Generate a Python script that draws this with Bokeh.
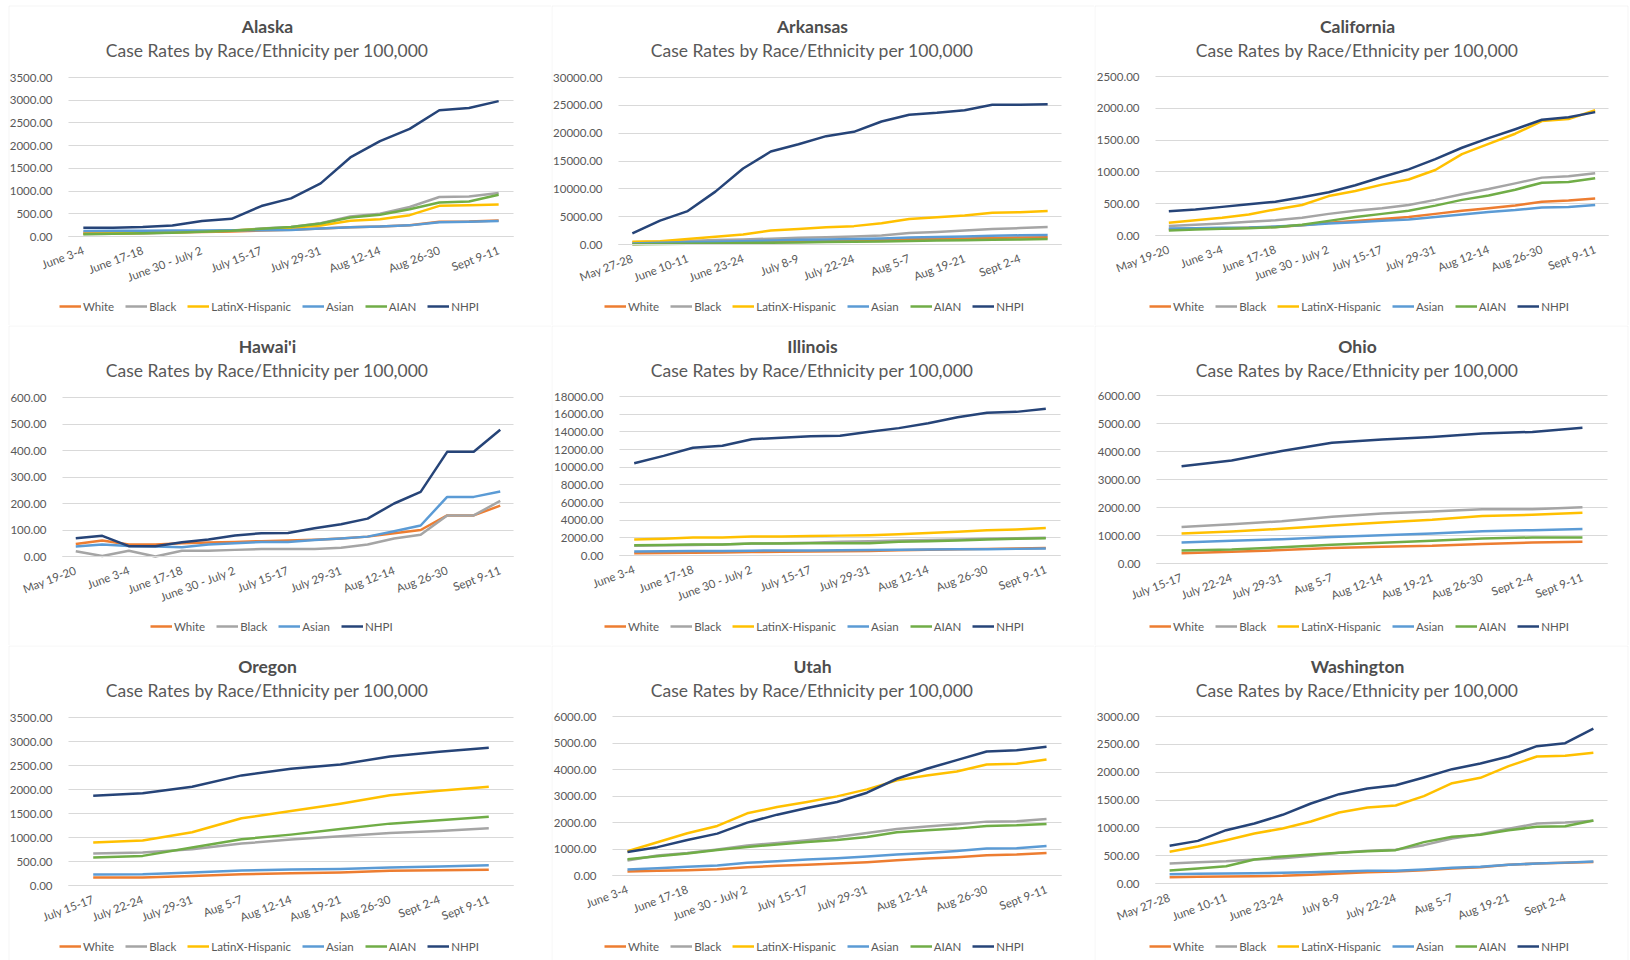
from bokeh.plotting import figure
from bokeh.layouts import gridplot
from bokeh.models import (Range1d, FixedTicker, PrintfTickFormatter, Legend, LegendItem, Label, Grid,
                          BoxAnnotation)
from bokeh.embed import file_html
from bokeh.resources import INLINE

# ---------------- categories ----------------
DATES_MAY19 = ["May 19-20", "May 27-28", "June 3-4", "June 10-11", "June 17-18", "June 24-25",
               "June 30 - July 2", "July 8-9", "July 15-17", "July 22-24", "July 29-31",
               "Aug 5-7", "Aug 12-14", "Aug 19-21", "Aug 26-30", "Sept 2-4", "Sept 9-11"]
DATES_MAY27 = ["May 27-28", "June 3-4", "June 10-11", "June 17-18", "June 23-24",
               "June 30 - July 2", "July 8-9", "July 15-17", "July 22-24", "July 29-31",
               "Aug 5-7", "Aug 12-14", "Aug 19-21", "Aug 26-30", "Sept 2-4", "Sept 9-11"]
DATES_JUNE3 = ["June 3-4", "June 10-11", "June 17-18", "June 24-25", "June 30 - July 2",
               "July 8-9", "July 15-17", "July 22-24", "July 29-31", "Aug 5-7",
               "Aug 12-14", "Aug 19-21", "Aug 26-30", "Sept 2-4", "Sept 9-11"]
DATES_JULY15 = ["July 15-17", "July 22-24", "July 29-31", "Aug 5-7", "Aug 12-14",
                "Aug 19-21", "Aug 26-30", "Sept 2-4", "Sept 9-11"]

SUBTITLE = "Case Rates by Race/Ethnicity per 100,000"
SERIES = ["White", "Black", "LatinX-Hispanic", "Asian", "AIAN", "NHPI"]
COLORS = {"White": "#ED7D31", "Black": "#A5A5A5", "LatinX-Hispanic": "#FFC000",
          "Asian": "#5B9BD5", "AIAN": "#70AD47", "NHPI": "#264478"}

# ---------------- Alaska ----------------
alaska_white = [80, 85, 90, 95, 100, 110, 130, 150, 175, 205, 220, 250, 325, 330, 350]
alaska_black = [55, 60, 66, 88, 110, 130, 175, 210, 290, 440, 500, 650, 870, 880, 960]
alaska_latinx = [60, 65, 75, 90, 110, 130, 160, 190, 240, 345, 380, 470, 675, 690, 705]
alaska_asian = [120, 125, 125, 130, 130, 135, 140, 145, 175, 205, 220, 245, 315, 325, 340]
alaska_aian = [50, 60, 70, 85, 105, 125, 170, 210, 286, 418, 480, 600, 750, 770, 920]
alaska_nhpi = [190, 195, 210, 240, 340, 390, 670, 840, 1170, 1740, 2100, 2370, 2780, 2830, 2980]

# ---------------- Arkansas ----------------
arkansas_white = [100, 200, 300, 380, 450, 540, 620, 700, 780, 860, 950, 1030, 1100, 1180, 1250, 1300]
arkansas_black = [400, 500, 650, 800, 900, 1050, 1200, 1300, 1450, 1600, 2050, 2250, 2500, 2800, 2950, 3150]
arkansas_latinx = [500, 600, 1000, 1400, 1800, 2500, 2800, 3100, 3300, 3800, 4600, 4900, 5200, 5700, 5800, 6000]
arkansas_asian = [200, 300, 400, 500, 600, 700, 850, 900, 1000, 1100, 1250, 1350, 1450, 1550, 1650, 1700]
arkansas_aian = [50, 100, 150, 200, 260, 320, 380, 440, 500, 560, 620, 700, 780, 850, 920, 980]
arkansas_nhpi = [2000, 4300, 6000, 9500, 13650, 16700, 18000, 19460, 20240, 22100, 23300, 23650,
                 24130, 25090, 25090, 25200]

# ---------------- California ----------------
california_white = [100, 105, 110, 120, 135, 160, 200, 230, 260, 290, 340, 390, 430, 470, 530, 550, 580]
california_black = [150, 170, 190, 215, 240, 280, 340, 390, 430, 480, 560, 650, 730, 820, 910, 930, 980]
california_latinx = [200, 240, 280, 330, 410, 480, 620, 700, 800, 880, 1030, 1280, 1440, 1600, 1800, 1830, 1970]
california_asian = [110, 115, 120, 125, 140, 160, 190, 210, 230, 250, 290, 330, 370, 400, 440, 450, 480]
california_aian = [80, 95, 105, 115, 130, 170, 230, 290, 340, 390, 470, 560, 630, 720, 830, 840, 900]
california_nhpi = [380, 410, 450, 490, 530, 600, 680, 790, 920, 1040, 1200, 1380, 1530, 1670, 1820, 1860, 1940]

# ---------------- Hawai'i ----------------
hawaii_white = [47, 60, 45, 45, 50, 53, 55, 58, 60, 63, 68, 75, 88, 100, 155, 155, 192]
hawaii_black = [20, 2, 22, 0, 22, 22, 25, 28, 28, 28, 33, 45, 68, 82, 155, 155, 210]
hawaii_asian = [38, 45, 40, 38, 35, 45, 50, 55, 55, 62, 68, 75, 95, 117, 225, 225, 245]
hawaii_nhpi = [69, 78, 39, 39, 54, 64, 79, 88, 89, 107, 122, 143, 200, 244, 395, 395, 478]

# ---------------- Illinois ----------------
illinois_white = [250, 280, 320, 350, 400, 420, 450, 480, 520, 600, 650, 700, 750, 800, 850]
illinois_black = [1100, 1150, 1200, 1250, 1350, 1400, 1450, 1550, 1600, 1700, 1750, 1800, 1900, 1950, 2000]
illinois_latinx = [1800, 1900, 2050, 2050, 2150, 2150, 2200, 2250, 2300, 2400, 2550, 2700, 2850, 2950, 3100]
illinois_asian = [450, 480, 500, 520, 550, 560, 580, 600, 620, 650, 680, 700, 720, 750, 800]
illinois_aian = [1150, 1200, 1250, 1250, 1350, 1350, 1400, 1400, 1400, 1550, 1600, 1700, 1800, 1900, 1950]
illinois_nhpi = [10450, 11280, 12190, 12420, 13170, 13320, 13510, 13550, 14000, 14420, 14980, 15660,
                 16150, 16260, 16600]

# ---------------- Ohio ----------------
ohio_white = [370, 420, 480, 550, 600, 630, 700, 750, 780]
ohio_black = [1300, 1400, 1510, 1670, 1790, 1860, 1940, 1940, 2010]
ohio_latinx = [1070, 1140, 1240, 1360, 1460, 1560, 1700, 1740, 1810]
ohio_asian = [750, 810, 870, 950, 1010, 1070, 1150, 1190, 1230]
ohio_aian = [460, 500, 580, 670, 740, 810, 890, 930, 930]
ohio_nhpi = [3476, 3680, 4020, 4310, 4430, 4520, 4640, 4700, 4845]

# ---------------- Oregon ----------------
oregon_white = [166, 166, 200, 236, 256, 270, 305, 319, 326]
oregon_black = [665, 686, 755, 873, 956, 1026, 1095, 1136, 1192]
oregon_latinx = [894, 936, 1109, 1400, 1552, 1705, 1878, 1975, 2058]
oregon_asian = [229, 236, 270, 312, 333, 346, 374, 395, 423]
oregon_aian = [582, 617, 790, 963, 1060, 1178, 1289, 1358, 1434]
oregon_nhpi = [1871, 1920, 2058, 2294, 2432, 2522, 2689, 2786, 2869]

# ---------------- Utah ----------------
utah_white = [150, 176, 200, 238, 314, 364, 401, 452, 502, 577, 640, 690, 765, 790, 853]
utah_black = [565, 753, 853, 979, 1130, 1230, 1330, 1455, 1606, 1757, 1845, 1932, 2033, 2045, 2133]
utah_latinx = [916, 1255, 1594, 1870, 2346, 2585, 2773, 2986, 3250, 3589, 3777, 3927, 4190, 4216, 4379]
utah_asian = [226, 276, 326, 376, 477, 540, 602, 652, 715, 790, 853, 928, 1016, 1029, 1117]
utah_aian = [615, 728, 828, 966, 1079, 1167, 1267, 1343, 1455, 1631, 1706, 1769, 1870, 1895, 1945]
utah_nhpi = [890, 1070, 1340, 1580, 1995, 2296, 2547, 2773, 3124, 3651, 4028, 4354, 4680, 4730, 4856]

# ---------------- Washington ----------------
washington_white = [114, 120, 126, 132, 138, 156, 180, 204, 216, 240, 269, 293, 335, 359, 371, 388]
washington_black = [359, 383, 401, 431, 455, 497, 551, 587, 605, 689, 808, 886, 982, 1078, 1096, 1126]
washington_latinx = [569, 665, 778, 898, 988, 1114, 1275, 1365, 1401, 1569, 1802, 1898, 2108, 2281, 2293, 2347]
washington_asian = [168, 174, 180, 186, 192, 204, 216, 228, 228, 251, 281, 299, 335, 359, 375, 393]
washington_aian = [234, 269, 311, 431, 485, 521, 551, 581, 599, 743, 838, 874, 958, 1018, 1030, 1132]
washington_nhpi = [677, 766, 958, 1078, 1234, 1437, 1605, 1707, 1766, 1904, 2054, 2156, 2281, 2467, 2521, 2784]

# ---------------- panel table (built from the arrays above) ----------------
PANELS = [
    ("Alaska", DATES_JUNE3, {"White": alaska_white, "Black": alaska_black, "LatinX-Hispanic": alaska_latinx,
                             "Asian": alaska_asian, "AIAN": alaska_aian, "NHPI": alaska_nhpi},
     3500, 500, 2, (68, 513, 77, 236)),
    ("Arkansas", DATES_MAY27, {"White": arkansas_white, "Black": arkansas_black, "LatinX-Hispanic": arkansas_latinx,
                               "Asian": arkansas_asian, "AIAN": arkansas_aian, "NHPI": arkansas_nhpi},
     30000, 5000, 2, (618, 1061, 77, 244)),
    ("California", DATES_MAY19, {"White": california_white, "Black": california_black,
                                 "LatinX-Hispanic": california_latinx, "Asian": california_asian,
                                 "AIAN": california_aian, "NHPI": california_nhpi},
     2500, 500, 2, (1155, 1608, 76, 235)),
    ("Hawai'i", DATES_MAY19, {"White": hawaii_white, "Black": hawaii_black,
                              "Asian": hawaii_asian, "NHPI": hawaii_nhpi},
     600, 100, 2, (62, 513, 397, 556)),
    ("Illinois", DATES_JUNE3, {"White": illinois_white, "Black": illinois_black, "LatinX-Hispanic": illinois_latinx,
                               "Asian": illinois_asian, "AIAN": illinois_aian, "NHPI": illinois_nhpi},
     18000, 2000, 2, (619, 1060, 396, 555)),
    ("Ohio", DATES_JULY15, {"White": ohio_white, "Black": ohio_black, "LatinX-Hispanic": ohio_latinx,
                            "Asian": ohio_asian, "AIAN": ohio_aian, "NHPI": ohio_nhpi},
     6000, 1000, 1, (1156, 1607, 395, 563)),
    ("Oregon", DATES_JULY15, {"White": oregon_white, "Black": oregon_black, "LatinX-Hispanic": oregon_latinx,
                              "Asian": oregon_asian, "AIAN": oregon_aian, "NHPI": oregon_nhpi},
     3500, 500, 1, (68, 513, 717, 885)),
    ("Utah", DATES_JUNE3, {"White": utah_white, "Black": utah_black, "LatinX-Hispanic": utah_latinx,
                           "Asian": utah_asian, "AIAN": utah_aian, "NHPI": utah_nhpi},
     6000, 1000, 2, (612, 1061, 716, 875)),
    ("Washington", DATES_MAY27, {"White": washington_white, "Black": washington_black,
                                 "LatinX-Hispanic": washington_latinx, "Asian": washington_asian,
                                 "AIAN": washington_aian, "NHPI": washington_nhpi},
     3000, 500, 2, (1155, 1607, 716, 883)),
]

FONT = "Lato"
TEXT_GREY = "#595959"
COL_X = [0, 551, 1094]
COL_W = [551, 543, 536]
ROW_Y = [0, 325, 645]
ROW_H = [325, 320, 315]


def make_panel(idx, spec):
    name, dates, series, ymax, ystep, lstep, frame = spec
    r, c = divmod(idx, 3)
    x0, w = COL_X[c], COL_W[c]
    y0, h = ROW_Y[r], ROW_H[r]
    fl, fr, ft, fb = frame
    # data area inside the figure (figure-relative pixels)
    dl, dr, dt, db = fl - x0, fr - x0, ft - y0, fb - y0
    n = len(dates)
    xs = list(range(n))
    sx = n / (dr - dl)
    xstart = -0.5 - dl * sx
    sy = ymax / (db - dt)
    ystart = -(h - db) * sy

    def px_x(px):
        return xstart + px * sx

    def px_y(py):
        return ystart + (h - py) * sy

    p = figure(width=w, height=h, output_backend="svg", toolbar_location=None,
               x_range=Range1d(xstart, xstart + w * sx), y_range=Range1d(ystart, ystart + h * sy),
               min_border=0, min_border_left=0, min_border_right=0, min_border_top=0, min_border_bottom=0,
               title=None)
    p.outline_line_color = None
    p.background_fill_color = "white"
    p.border_fill_color = "white"

    # chart-object border (light grey box like the slide)
    p.add_layout(BoxAnnotation(left=px_x(8.5 if c == 0 else 0.5),
                               right=px_x(w + 5 if c < 2 else 1627.5 - x0),
                               top=px_y(5.5 if r == 0 else 0.5),
                               bottom=px_y(h + 5),
                               fill_alpha=0, line_color="#D9D9D9", line_width=1, level="underlay"))

    p.xgrid.visible = False
    p.ygrid.grid_line_color = "#D9D9D9"
    p.ygrid.grid_line_width = 1
    p.ygrid.ticker = FixedTicker(ticks=list(range(0, ymax + 1, ystep)))
    if "cross_bounds" in Grid.properties():
        p.ygrid.cross_bounds = (-0.5, n - 0.5)

    p.yaxis.fixed_location = -0.5
    p.yaxis.bounds = (0, ymax)
    p.yaxis.ticker = FixedTicker(ticks=list(range(0, ymax + 1, ystep)))
    p.yaxis.formatter = PrintfTickFormatter(format="%.2f")
    p.yaxis.axis_line_color = None
    p.yaxis.major_tick_line_color = None
    p.yaxis.minor_tick_line_color = None
    p.yaxis.major_label_standoff = 10

    tick_idx = list(range(0, n, lstep))
    p.xaxis.fixed_location = 0
    p.xaxis.bounds = (-0.5, n - 0.5)
    p.xaxis.ticker = FixedTicker(ticks=tick_idx)
    p.xaxis.major_label_overrides = {i: dates[i] for i in tick_idx}
    p.xaxis.major_label_orientation = 0.36
    p.xaxis.axis_line_color = "#D9D9D9"
    p.xaxis.major_tick_line_color = None
    p.xaxis.minor_tick_line_color = None
    p.xaxis.major_label_standoff = 7

    for ax in (p.xaxis, p.yaxis):
        ax.major_label_text_font = FONT
        ax.major_label_text_font_size = "11.5px"
        ax.major_label_text_color = TEXT_GREY

    items = []
    for s in SERIES:
        if s not in series:
            continue
        rend = p.line(xs, series[s], line_color=COLORS[s], line_width=2.5, line_join="round")
        items.append(LegendItem(label=s, renderers=[rend]))

    xc = 267 + 545 * c - x0
    title_y = (26 + 320 * r) - y0
    sub_y = (50 + 320 * r) - y0
    p.add_layout(Label(x=xc, y=h - title_y, x_units="screen", y_units="screen",
                       text=name, text_align="center", text_baseline="middle",
                       text_font=FONT, text_font_style="bold", text_font_size="17.5px",
                       text_color="#4d4d4d"))
    p.add_layout(Label(x=xc, y=h - sub_y, x_units="screen", y_units="screen",
                       text=SUBTITLE, text_align="center", text_baseline="middle",
                       text_font=FONT, text_font_size="17.5px", text_color=TEXT_GREY))

    # legend
    leg_h = 14
    leg_yc = (306 + 320 * r) - y0
    leg_left = (59 if len(items) == 6 else 150) + 545 * c - x0
    legend = Legend(items=items, orientation="horizontal",
                    location=(leg_left, h - leg_yc - leg_h / 2),
                    padding=0, margin=0, spacing=11, glyph_width=22, glyph_height=leg_h,
                    label_height=leg_h, label_standoff=2,
                    label_text_font=FONT, label_text_font_size="11.5px", label_text_color=TEXT_GREY,
                    border_line_color=None, background_fill_alpha=0)
    p.add_layout(legend, "center")
    return p


figs = [make_panel(i, spec) for i, spec in enumerate(PANELS)]
grid = gridplot([figs[0:3], figs[3:6], figs[6:9]], toolbar_location=None)

open("out.html", "w").write(file_html(grid, INLINE))
